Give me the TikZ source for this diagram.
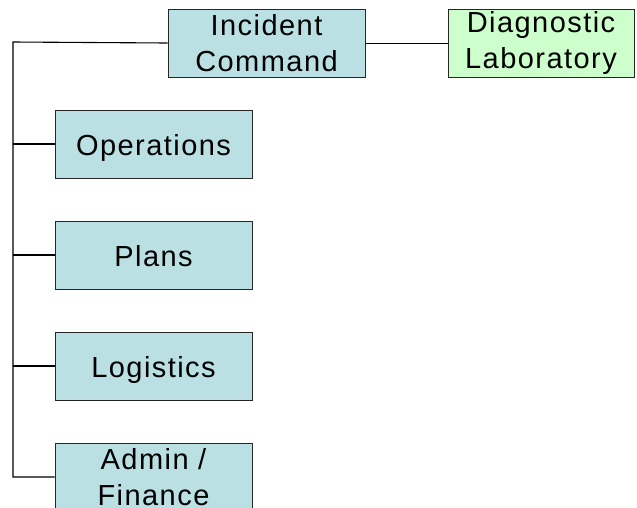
\documentclass[tikz,border=0pt]{standalone}
\usepackage{fontspec}
\setmainfont{Liberation Sans}[LetterSpace=5]
\begin{document}
\begin{tikzpicture}[x=1pt,y=1pt,
  box/.style={draw=black!85, line width=0.9pt, fill=boxblue, minimum width=197pt, minimum height=68pt, inner sep=0pt, align=center, font=\fontsize{29}{35.5}\selectfont},
  gbox/.style={box, fill=boxgreen, minimum width=186pt},
  one/.style={text height=23pt, text depth=1pt},
  conn/.style={draw=black, line width=1.1pt}]
\definecolor{boxblue}{HTML}{BBE0E3}
\definecolor{boxgreen}{HTML}{CCFFCC}
\useasboundingbox (0,0) rectangle (637,-507);
\clip (0,0) rectangle (637,-507);
\node[box] (ic) at (266.5,-43) {Incident\\Command};
\node[gbox] (lab) at (541,-43) {Diagnostic\\Laboratory};
\node[box, one] (ops) at (153.5,-144) {Operations};
\node[box, one] (pla) at (153.5,-255) {Plans};
\node[box, one] (log) at (153.5,-366) {Logistics};
\node[box] (adm) at (153.5,-477) {Admin /\\Finance};
\coordinate (spine) at (13,-42);
\draw[conn, line width=0.9pt] (ic.east) -- (lab.west);
\draw[conn] (ic.west) -- (spine) |- (adm.west);
\draw[conn] (ops.west) -- (ops.west -| spine);
\draw[conn] (pla.west) -- (pla.west -| spine);
\draw[conn] (log.west) -- (log.west -| spine);
\end{tikzpicture}
\end{document}
